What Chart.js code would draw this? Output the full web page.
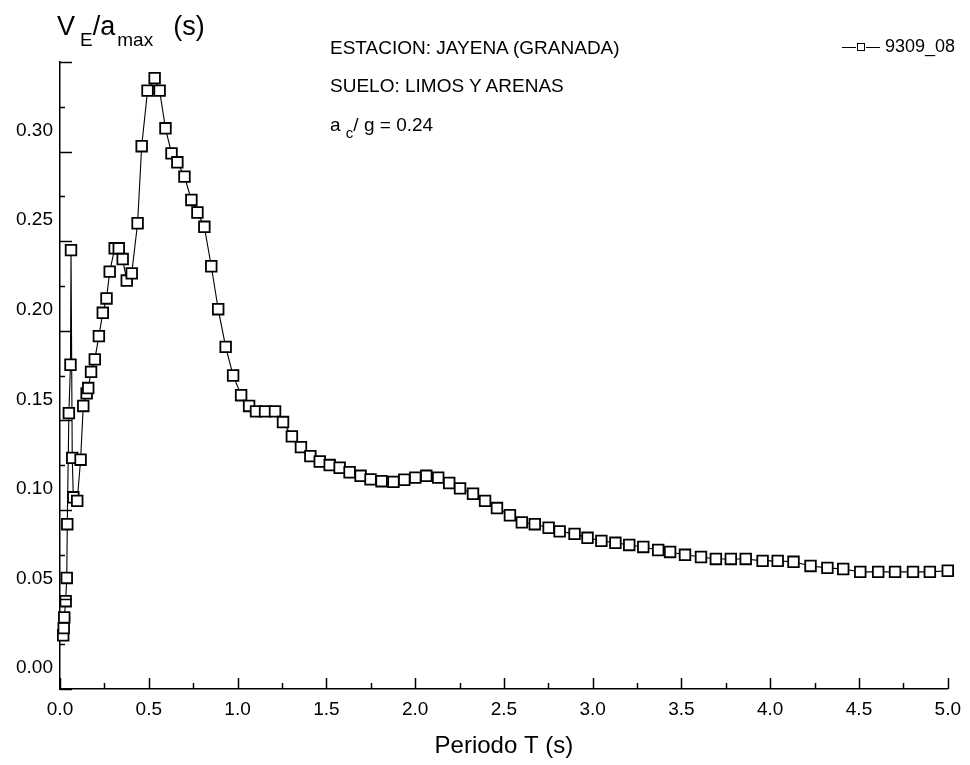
<!DOCTYPE html>
<html>
<head>
<meta charset="utf-8">
<script src="https://cdn.jsdelivr.net/npm/chart.js@4.4.1/dist/chart.umd.min.js"></script>
<style>
  body { margin: 0; background: #fff; }
  #wrap { position: relative; width: 970px; height: 765px; font-family: "Liberation Sans", Arial, sans-serif; color: #000; }
  .note { position: absolute; white-space: nowrap; line-height: 1; font-size: 19px; }
  .note sub { font-size: 15px; vertical-align: -7px; }
  #ytitle { left: 57px; top: 13px; font-size: 27px; }
  #ytitle sub { font-size: 19px; vertical-align: -11px; }
  #ytitle .e { margin-left: 5px; }
  #ytitle .m { margin-left: 2px; margin-right: 20px; }
  #legend { position: absolute; right: 15px; top: 37px; font-size: 18px; line-height: 1; white-space: nowrap; }
  #legend .ln { display: inline-block; width: 14px; height: 0; border-top: 1.5px solid #000; vertical-align: middle; }
  #legend .sq { display: inline-block; width: 6px; height: 6px; border: 1.3px solid #000; vertical-align: middle; margin: 0 1px; }
  #legend .tx { margin-left: 5px; }
</style>
</head>
<body>
<div id="wrap">
  <canvas id="chart" width="970" height="765"></canvas>
  <div class="note" id="ytitle">V<sub class="e">E</sub>/a<sub class="m">max</sub>(s)</div>
  <div class="note" style="left:330px; top:38px;">ESTACION: JAYENA (GRANADA)</div>
  <div class="note" style="left:330px; top:76px;">SUELO: LIMOS Y ARENAS</div>
  <div class="note" style="left:330px; top:115px;">a <sub>c</sub>/ g = 0.24</div>
  <div id="legend"><span class="ln"></span><span class="sq"></span><span class="ln"></span><span class="tx">9309_08</span></div>
</div>
<script>
// periodo T (s)
const periods = [
  0.018, 0.021, 0.024, 0.032, 0.038, 0.041, 0.050, 0.059, 0.062, 0.069,
  0.075, 0.097, 0.116, 0.131, 0.150, 0.159, 0.175, 0.196, 0.219, 0.241,
  0.262, 0.280, 0.308, 0.331, 0.353, 0.376, 0.404, 0.437, 0.460, 0.493,
  0.533, 0.561, 0.594, 0.628, 0.661, 0.701, 0.740, 0.774, 0.813, 0.852,
  0.891, 0.933, 0.975, 1.020, 1.065, 1.104, 1.155, 1.211, 1.256, 1.306,
  1.357, 1.410, 1.463, 1.519, 1.575, 1.631, 1.693, 1.749, 1.811, 1.878,
  1.939, 2.001, 2.063, 2.130, 2.192, 2.253, 2.326, 2.394, 2.461, 2.534,
  2.601, 2.674, 2.752, 2.814, 2.898, 2.971, 3.049, 3.128, 3.206, 3.285,
  3.369, 3.436, 3.520, 3.610, 3.694, 3.778, 3.862, 3.957, 4.042, 4.131,
  4.227, 4.322, 4.411, 4.507, 4.608, 4.703, 4.804, 4.899, 5.000
];
// V_E / a_max (s), registro 9309_08
const ratio = [
  0.030, 0.034, 0.040, 0.049, 0.062, 0.092, 0.154, 0.181, 0.245, 0.129,
  0.107, 0.105, 0.128, 0.158, 0.165, 0.168, 0.177, 0.184, 0.197, 0.210,
  0.218, 0.233, 0.246, 0.246, 0.240, 0.228, 0.232, 0.260, 0.303, 0.334,
  0.341, 0.334, 0.313, 0.299, 0.294, 0.286, 0.273, 0.266, 0.258, 0.236,
  0.212, 0.191, 0.175, 0.164, 0.158, 0.155, 0.155, 0.155, 0.149, 0.141,
  0.135, 0.130, 0.127, 0.125, 0.1235, 0.121, 0.119, 0.117, 0.116, 0.1156,
  0.1168, 0.118, 0.119, 0.118, 0.115, 0.112, 0.109, 0.105, 0.101, 0.097,
  0.093, 0.092, 0.090, 0.088, 0.0866, 0.0844, 0.0827, 0.0816, 0.0804, 0.0793,
  0.0776, 0.0765, 0.0749, 0.0737, 0.0726, 0.0726, 0.0726, 0.0715, 0.0715, 0.071,
  0.0687, 0.0676, 0.067, 0.0654, 0.0654, 0.0654, 0.0654, 0.0654, 0.066
];

const xMajor = 0.5;   // etiquetas 0.0 ... 5.0
const yMajor = 0.05;  // etiquetas 0.00 ... 0.30

const points = periods.map((t, i) => ({ x: t, y: ratio[i] }));

const isMajor = (v, step) => Math.abs(v / step - Math.round(v / step)) < 1e-6;

// marcas de escala hacia dentro, como en el original
const inwardTicks = {
  id: 'inwardTicks',
  afterDraw(chart) {
    const { ctx, chartArea } = chart;
    const { x, y } = chart.scales;
    ctx.save();
    ctx.strokeStyle = '#000';
    ctx.lineWidth = 1.5;
    x.ticks.forEach(t => {
      const px = Math.round(x.getPixelForValue(t.value)) + 0.5;
      ctx.beginPath();
      ctx.moveTo(px, chartArea.bottom);
      ctx.lineTo(px, chartArea.bottom - (isMajor(t.value, xMajor) ? 11 : 6));
      ctx.stroke();
    });
    y.ticks.forEach(t => {
      const py = Math.round(y.getPixelForValue(t.value)) + 0.5;
      ctx.beginPath();
      ctx.moveTo(chartArea.left, py);
      ctx.lineTo(chartArea.left + (isMajor(t.value, yMajor) ? 12 : 5), py);
      ctx.stroke();
    });
    ctx.restore();
  }
};

const ctx = document.getElementById('chart').getContext('2d');
new Chart(ctx, {
  type: 'line',
  data: {
    datasets: [{
      label: '9309_08',
      data: points,
      borderColor: '#000',
      borderWidth: 1.1,
      tension: 0,
      clip: false,
      pointStyle: 'rect',
      pointRadius: 7.5,
      pointBorderWidth: 1.8,
      pointBorderColor: '#000',
      pointBackgroundColor: '#fff'
    }]
  },
  plugins: [inwardTicks],
  options: {
    responsive: false,
    animation: false,
    devicePixelRatio: 1,
    layout: { padding: { top: 62, right: 15, left: 0, bottom: 0 } },
    plugins: {
      legend: { display: false },
      tooltip: { enabled: false }
    },
    scales: {
      x: {
        type: 'linear',
        min: 0,
        max: 5,
        afterFit: s => { s.height = 76; },
        border: { display: true, color: '#000', width: 1.5 },
        grid: { display: true, drawOnChartArea: false, drawTicks: false },
        ticks: {
          stepSize: 0.25,
          autoSkip: false,
          maxRotation: 0,
          padding: 9,
          color: '#000',
          font: { family: '"Liberation Sans", Arial, sans-serif', size: 19 },
          callback: v => (isMajor(v, xMajor) ? v.toFixed(1) : '')
        },
        title: {
          display: true,
          text: 'Periodo T (s)',
          color: '#000',
          font: { family: '"Liberation Sans", Arial, sans-serif', size: 24 },
          padding: { top: 0, bottom: 4 }
        }
      },
      y: {
        min: 0,
        max: 0.35,
        afterFit: s => { s.width = 60; },
        border: { display: true, color: '#000', width: 1.5 },
        grid: { display: true, drawOnChartArea: false, drawTicks: false },
        ticks: {
          stepSize: 0.025,
          autoSkip: false,
          padding: 7,
          labelOffset: -21,
          color: '#000',
          font: { family: '"Liberation Sans", Arial, sans-serif', size: 19 },
          callback: v => (isMajor(v, yMajor) && v < 0.34 ? v.toFixed(2) : '')
        }
      }
    }
  }
});
</script>
</body>
</html>
